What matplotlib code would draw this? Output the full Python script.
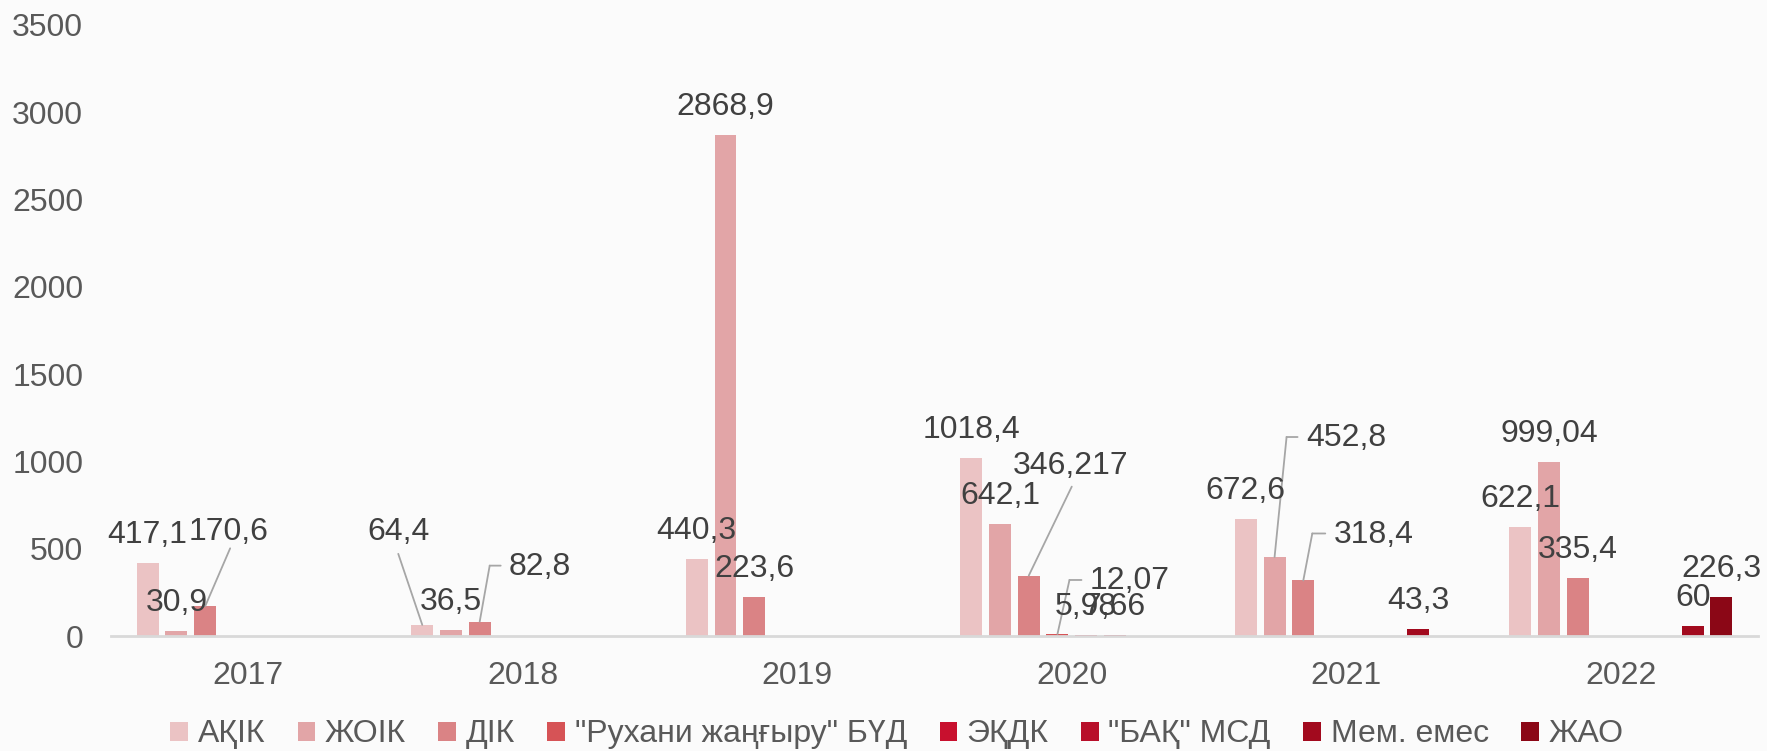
import numpy as np
import matplotlib.pyplot as plt
from matplotlib.transforms import offset_copy

plt.rcParams['font.family'] = ['Liberation Sans', 'DejaVu Sans']

years = ['2017', '2018', '2019', '2020', '2021', '2022']
series = ['АҚІК', 'ЖОІК', 'ДІК', '"Рухани жаңғыру" БҮД', 'ЭҚДК', '"БАҚ" МСД', 'Мем. емес', 'ЖАО']
colors = ['#ebc3c4', '#e2a5a7', '#da8385', '#d65356', '#c8102e', '#b80f2a', '#a20a1e', '#8b0716']

akik = [417.1, 64.4, 440.3, 1018.4, 672.6, 622.1]
zhoik = [30.9, 36.5, 2868.9, 642.1, 452.8, 999.04]
dik = [170.6, 82.8, 223.6, 346.217, 318.4, 335.4]
rukhani = [None, None, None, 12.07, None, None]
ekdk = [None, None, None, 5.98, None, None]
bak = [None, None, None, 7.66, None, None]
mem_emes = [None, None, None, None, 43.3, 60]
zhao = [None, None, None, None, None, 226.3]
values = [akik, zhoik, dik, rukhani, ekdk, bak, mem_emes, zhao]

label_text = {
    417.1: '417,1', 64.4: '64,4', 440.3: '440,3', 1018.4: '1018,4', 672.6: '672,6', 622.1: '622,1',
    30.9: '30,9', 36.5: '36,5', 2868.9: '2868,9', 642.1: '642,1', 452.8: '452,8', 999.04: '999,04',
    170.6: '170,6', 82.8: '82,8', 223.6: '223,6', 346.217: '346,217', 318.4: '318,4', 335.4: '335,4',
    12.07: '12,07', 5.98: '5,98', 7.66: '7,66', 43.3: '43,3', 60: '60', 226.3: '226,3',
}

# labels moved by hand: (series idx, year idx) -> label offset px, leader points px
moved = {
    (2, 0): ((23, 74), [(0, 0), (25, 58)]),
    (0, 1): ((-24, 93), [(0, 0), (-24, 71)]),
    (2, 1): ((60, 55), [(0, 0), (10, 56), (21, 56)]),
    (2, 3): ((42, 110), [(0, 0), (43, 89)]),
    (3, 3): ((72, 53), [(0, 0), (12, 54), (24, 54)]),
    (1, 4): ((72, 119), [(0, 0), (12, 120), (23, 120)]),
    (2, 4): ((70, 45), [(0, 0), (9, 47), (22, 47)]),
}

FS = 23
fig = plt.figure(figsize=(17.67, 7.51), dpi=100, facecolor='#fbfbfb')
ax = fig.add_axes([0.0628, 0.153, 0.9322, 0.814])
ax.set_facecolor('#fbfbfb')

x = np.arange(len(years))
step = 0.1046
width = 0.080
px2pt = 72 / 100

for i, (name, vals) in enumerate(zip(series, values)):
    xs = x + (i - 3.5) * step
    h = [v if v is not None else 0 for v in vals]
    ax.bar(xs, h, width=width, color=colors[i], label=name, zorder=2)
    for j, v in enumerate(vals):
        if v is None:
            continue
        if (i, j) in moved:
            (dx, dy), pts = moved[(i, j)]
            ax.annotate(label_text[v], (xs[j], v), xytext=(dx * px2pt, dy * px2pt),
                        textcoords='offset points', ha='center', va='center',
                        fontsize=FS, color='#404040', zorder=4)
            lx = [p[0] * px2pt for p in pts]
            ly = [p[1] * px2pt for p in pts]
            for k in range(len(pts) - 1):
                t0 = offset_copy(ax.transData, fig=fig, x=lx[k], y=ly[k], units='points')
                ax.annotate('', xy=(xs[j], v), xycoords=t0,
                            xytext=(lx[k + 1] - lx[k], ly[k + 1] - ly[k]), textcoords='offset points',
                            arrowprops=dict(arrowstyle='-', color='#a6a6a6', lw=1.3,
                                            shrinkA=0, shrinkB=0), zorder=3)
        else:
            ax.annotate(label_text[v], (xs[j], v), xytext=(0, 28 * px2pt),
                        textcoords='offset points', ha='center', va='center',
                        fontsize=FS, color='#404040', zorder=4)

ax.set_xlim(-0.5, 5.5)
ax.set_ylim(0, 3500)
ax.set_yticks(range(0, 3501, 500))
ax.set_xticks(x)
ax.set_xticklabels(years)
ax.tick_params(axis='both', length=0, labelsize=FS, labelcolor='#595959')
ax.tick_params(axis='x', pad=18)
ax.tick_params(axis='y', pad=20)
for s in ['top', 'right', 'left']:
    ax.spines[s].set_visible(False)
ax.spines['bottom'].set_color('#d9d9d9')
ax.spines['bottom'].set_linewidth(2)

leg = fig.legend(loc='center', bbox_to_anchor=(0.5076, 0.022), ncol=8, frameon=False,
                 fontsize=FS, handlelength=0.55, handleheight=0.55, handletextpad=0.3,
                 columnspacing=1.02, labelcolor='#595959', borderaxespad=0, borderpad=0)

fig.savefig('out.png', dpi=100, facecolor=fig.get_facecolor())
